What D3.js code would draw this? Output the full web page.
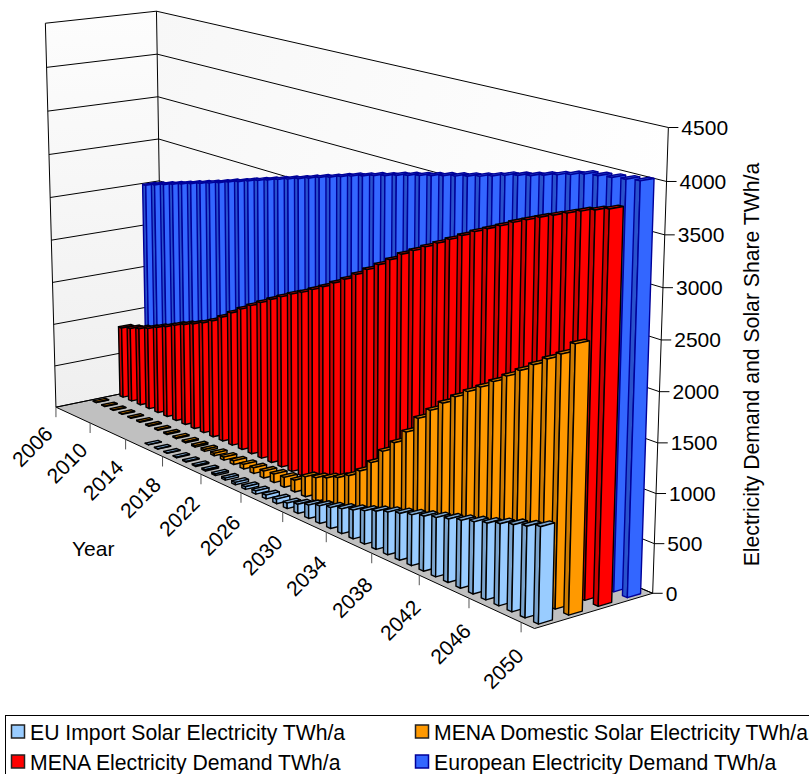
<!DOCTYPE html>
<html>
<head>
<meta charset="utf-8">
<script src="https://cdn.jsdelivr.net/npm/d3@7"></script>
<style>
  html, body { margin: 0; padding: 0; background: #fff; }
  svg { display: block; }
  text { font-family: "Liberation Sans", Arial, sans-serif; fill: #000; }
</style>
</head>
<body>
<svg id="chart" width="809" height="774"></svg>
<script>
// Electricity demand and solar share, 2006-2050, TWh/a
const years = [2006,2007,2008,2009,2010,2011,2012,2013,2014,2015,2016,2017,2018,2019,2020,
  2021,2022,2023,2024,2025,2026,2027,2028,2029,2030,2031,2032,2033,2034,2035,2036,2037,2038,
  2039,2040,2041,2042,2043,2044,2045,2046,2047,2048,2049,2050];
const yearTicks = [2006,2010,2014,2018,2022,2026,2030,2034,2038,2042,2046,2050];
const valueTicks = [0,500,1000,1500,2000,2500,3000,3500,4000,4500];

const euImport = [null,null,null,null,null,null,null,null,null,2,3,5,7,9,12,15,18,22,26,30,35,42,50,60,
  100,145,190,225,265,305,350,400,445,485,525,565,605,645,685,725,766,815,860,900,950];
const menaSolar = [5,5,5,6,6,7,8,9,10,12,14,18,22,28,34,42,52,64,78,95,110,130,220,260,310,365,438,
  540,680,850,990,1150,1340,1470,1590,1700,1800,1890,1990,2090,2190,2290,2390,2480,2620];
const menaDemand = [845,880,920,965,1020,1070,1130,1180,1230,1285,1350,1435,1525,1610,1690,1765,1840,
  1910,1980,2040,2110,2180,2260,2340,2430,2520,2610,2700,2795,2870,2945,3020,3095,3170,3245,3310,
  3375,3445,3505,3565,3620,3675,3730,3775,3820];
const euDemand = [2505,2543,2580,2617,2655,2692,2729,2767,2804,2846,2883,2925,2964,3002,3040,3079,
  3117,3156,3195,3233,3272,3311,3345,3382,3414,3451,3483,3515,3547,3579,3610,3642,3674,3710,3750,
  3782,3813,3850,3887,3923,3960,3978,3995,4012,4030];

const seriesNames = ["EU Import Solar Electricity TWh/a", "MENA Domestic Solar Electricity TWh/a",
  "MENA Electricity Demand TWh/a", "European Electricity Demand TWh/a"];
const seriesValues = [euImport, menaSolar, menaDemand, euDemand];
const faceColors = ["#99CCFF", "#FF9900", "#FF0000", "#3366FF"];
const sideColors = ["#7AA3CC", "#CC7A00", "#CC0000", "#2952CC"];
const edgeColors = ["#000000", "#000000", "#000000", "#000099"];

// Unit-cube scales: u runs along the years, v into the depth, w up the value axis
const uScale = d3.scaleBand().domain(years).range([0, 1]);
const vScale = d3.scaleBand().domain(seriesNames).range([0, 1]);
const wScale = d3.scaleLinear().domain([0, 4500]).range([0, 1]);
const barInset = 0.32, barDepth = 0.46;

// Camera: a projective map from the unit cube to the page, fitted to the box's corners
const anchors = [
  [0,0,0, 56,406.7],[0,0,1, 45,23.5],[0,1,1, 156.7,10.7],[0,1,5/9, 159.3,181],
  [1,1,1, 668.3,128],[1,1,0, 652.7,592.7],[1,0,0, 535,629],[1,1,8/9, 666.5,181],
  [0,1,0, 162.5,386],[44/45,0,0, 520.7,622.5],[4/45,0,0, 90,422.5],[0,0,5/9, 50.5,197.7]
];
function fitCamera(pts) {
  const rows = [], rhs = [];
  pts.forEach(([u,v,w,x,y]) => {
    rows.push([u,v,w,1,0,0,0,0,-x*u,-x*v,-x*w]); rhs.push(x);
    rows.push([0,0,0,0,u,v,w,1,-y*u,-y*v,-y*w]); rhs.push(y);
  });
  const n = 11;
  const M = d3.range(n).map(i => d3.range(n + 1).map(j =>
    j < n ? d3.sum(rows, r => r[i] * r[j]) : d3.sum(rows, (r, k) => r[i] * rhs[k])));
  for (let c = 0; c < n; c++) {
    let p = c;
    for (let r = c + 1; r < n; r++) if (Math.abs(M[r][c]) > Math.abs(M[p][c])) p = r;
    [M[c], M[p]] = [M[p], M[c]];
    for (let r = 0; r < n; r++) {
      if (r === c) continue;
      const f = M[r][c] / M[c][c];
      for (let k = c; k <= n; k++) M[r][k] -= f * M[c][k];
    }
  }
  return M.map((row, i) => row[n] / row[i]);
}
const cam = fitCamera(anchors);
function project(u, v, w) {
  const d = cam[8]*u + cam[9]*v + cam[10]*w + 1;
  return [(cam[0]*u + cam[1]*v + cam[2]*w + cam[3]) / d,
          (cam[4]*u + cam[5]*v + cam[6]*w + cam[7]) / d];
}
const poly = pts => pts.map(p => p.map(c => c.toFixed(2)).join(",")).join(" ");

const svg = d3.select("#chart");
const defs = svg.append("defs");
function gradient(id, x2, y2, from, to) {
  const g = defs.append("linearGradient").attr("id", id)
    .attr("x1", 0).attr("y1", 0).attr("x2", x2).attr("y2", y2);
  g.append("stop").attr("offset", 0).attr("stop-color", from);
  g.append("stop").attr("offset", 1).attr("stop-color", to);
}
gradient("sideWall", 0, 1, "#FDFDFD", "#EFEFEF");
gradient("backWall", 1, 0.4, "#F7F7F7", "#FFFFFF");

// Walls and floor
svg.append("polygon").attr("points", poly([project(0,0,0),project(0,1,0),project(0,1,1),project(0,0,1)]))
  .attr("fill", "url(#sideWall)");
svg.append("polygon").attr("points", poly([project(0,1,0),project(1,1,0),project(1,1,1),project(0,1,1)]))
  .attr("fill", "url(#backWall)");
svg.append("polygon").attr("points", poly([project(0,0,0),project(1,0,0),project(1,1,0),project(0,1,0)]))
  .attr("fill", "#C0C0C0").attr("stroke", "#000").attr("stroke-width", 1);

// Gridlines across both walls
svg.append("g").selectAll("polyline").data(valueTicks).join("polyline")
  .attr("points", d => { const w = wScale(d); return poly([project(0,0,w),project(0,1,w),project(1,1,w)]); })
  .attr("fill", "none").attr("stroke", "#000").attr("stroke-width", 1);
[[0,0],[0,1],[1,1]].forEach(([u,v]) => {
  const a = project(u,v,0), b = project(u,v,1);
  svg.append("line").attr("x1",a[0]).attr("y1",a[1]).attr("x2",b[0]).attr("y2",b[1])
    .attr("stroke","#000").attr("stroke-width",1);
});

// Bars, back series first and low years first so nearer faces cover farther ones
const seriesOrder = d3.range(seriesNames.length).reverse();
seriesOrder.forEach(si => {
  const name = seriesNames[si];
  const bars = years.map((y, i) => ({ y, val: seriesValues[si][i] })).filter(d => d.val != null);
  const v0 = vScale(name) + vScale.bandwidth() * (1 - barDepth) / 2;
  const v1 = v0 + vScale.bandwidth() * barDepth;
  const g = svg.append("g").attr("stroke", edgeColors[si]).attr("stroke-width", 1.4)
    .attr("stroke-linejoin", "round");
  const bar = g.selectAll("g").data(bars).join("g");
  const uA = d => uScale(d.y) + uScale.bandwidth() * barInset;
  const uB = d => uScale(d.y) + uScale.bandwidth() * (1 - barInset);
  // face toward the viewer along the depth
  bar.append("polygon").attr("fill", sideColors[si]).attr("points", d => {
    const w = wScale(d.val);
    return poly([project(uA(d),v0,0),project(uB(d),v0,0),project(uB(d),v0,w),project(uA(d),v0,w)]);
  });
  // top
  bar.append("polygon").attr("fill", sideColors[si]).attr("points", d => {
    const w = wScale(d.val);
    return poly([project(uA(d),v0,w),project(uB(d),v0,w),project(uB(d),v1,w),project(uA(d),v1,w)]);
  });
  // broad end face
  bar.append("polygon").attr("fill", faceColors[si]).attr("points", d => {
    const w = wScale(d.val);
    return poly([project(uB(d),v0,0),project(uB(d),v1,0),project(uB(d),v1,w),project(uB(d),v0,w)]);
  });
});

// Value axis on the right edge
const valueAxis = svg.append("g").selectAll("g").data(valueTicks).join("g")
  .attr("transform", d => { const p = project(1,1,wScale(d)); return `translate(${p[0]},${p[1]})`; });
valueAxis.append("line").attr("x2", 10).attr("stroke", "#000").attr("stroke-width", 1);
valueAxis.append("text").attr("x", 13).attr("dy", "0.35em").attr("font-size", 21).text(d => d);

// Year axis along the front edge
const yearAxis = svg.append("g").selectAll("g").data(yearTicks).join("g")
  .attr("transform", d => { const p = project(uScale(d),0,0); return `translate(${p[0]},${p[1]})`; });
yearAxis.append("line").attr("y2", 10).attr("stroke", "#555").attr("stroke-width", 1);
yearAxis.append("text")
  .attr("transform", d => {
    const t = uScale(d);
    return `translate(${-2 + 6 * t},${28 + 7 * t}) rotate(-45)`;
  })
  .attr("text-anchor", "end").attr("font-size", 21).text(d => d);

svg.append("text").attr("x", 72).attr("y", 556).attr("font-size", 21).text("Year");
svg.append("text").attr("transform", "translate(759,364.5) rotate(-90)").attr("text-anchor", "middle")
  .attr("font-size", 21.2).text("Electricity Demand and Solar Share TWh/a");

// Legend
const legendPos = [[11,731],[415,731],[11,761],[415,761]];
svg.append("rect").attr("x", 5.5).attr("y", 715.5).attr("width", 830).attr("height", 70)
  .attr("fill", "#fff").attr("stroke", "#000").attr("stroke-width", 1);
const legend = svg.append("g").selectAll("g").data(seriesNames).join("g")
  .attr("transform", (d, i) => `translate(${legendPos[i][0]},${legendPos[i][1]})`);
legend.append("rect").attr("x", 0.5).attr("y", -6).attr("width", 13).attr("height", 13)
  .attr("fill", (d, i) => faceColors[i]).attr("stroke", (d, i) => i === 3 ? "#000099" : "#222").attr("stroke-width", 1.5);
legend.append("text").attr("x", 19).attr("y", 8.5).attr("font-size", 21.2).text(d => d);
</script>
</body>
</html>
